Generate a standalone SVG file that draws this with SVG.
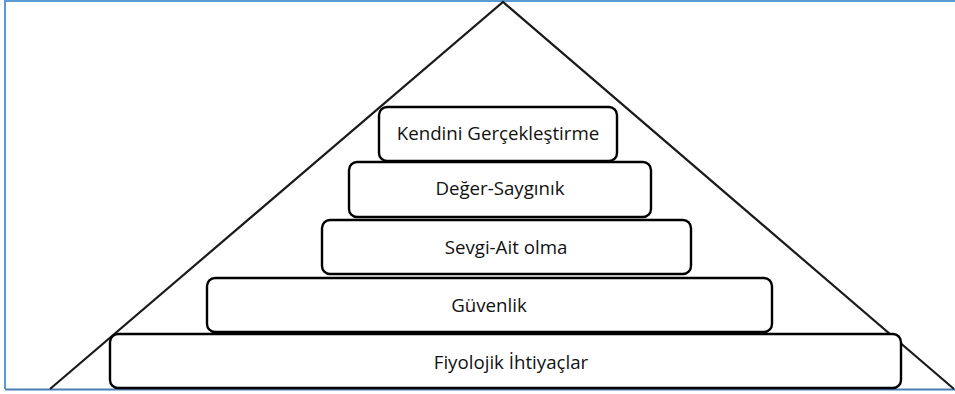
<svg xmlns="http://www.w3.org/2000/svg" width="955" height="394" viewBox="0 0 955 394">
<style>
.frame{fill:none;stroke:#5b9bd5;stroke-width:2}
.tri{fill:none;stroke:#1a1a1a;stroke-width:2.2}
.box{fill:#fff;stroke:#000;stroke-width:2.4}
.lbl{font-family:"Open Sans","Liberation Sans",sans-serif;font-size:18.7px;fill:#111;text-anchor:middle}
</style>
<rect width="955" height="394" fill="#fff"/>
<g id="frame">
<path class="frame" d="M5 389 V1 H956"/>
<path d="M5 389.5 H956" stroke="#4a7fb5" stroke-width="2" fill="none"/>
</g>
<g id="connectors">
<path class="tri" d="M50 389 L503 2 L954 389"/>
</g>
<g id="n5">
<rect class="box" x="110" y="334" width="791" height="54" rx="8"/>
<text class="lbl" x="511" y="368.5">Fiyolojik İhtiyaçlar</text>
</g>
<g id="n4">
<rect class="box" x="207" y="278" width="565" height="54" rx="8"/>
<text class="lbl" x="489" y="311.5">Güvenlik</text>
</g>
<g id="n3">
<rect class="box" x="322" y="220" width="369" height="54" rx="8"/>
<text class="lbl" x="506" y="253.5">Sevgi-Ait olma</text>
</g>
<g id="n2">
<rect class="box" x="349" y="162" width="302" height="55" rx="8"/>
<text class="lbl" x="500" y="195">Değer-Saygınık</text>
</g>
<g id="n1">
<rect class="box" x="379" y="107" width="238" height="54" rx="8"/>
<text class="lbl" x="498" y="139.5">Kendini Gerçekleştirme</text>
</g>
</svg>
